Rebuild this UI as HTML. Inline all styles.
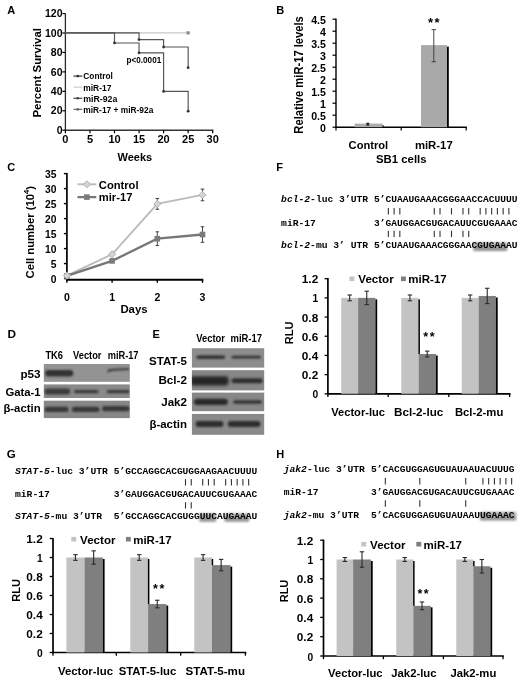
<!DOCTYPE html>
<html><head><meta charset="utf-8"><title>Figure</title>
<style>
html,body{margin:0;padding:0;background:#fff;width:520px;height:681px;overflow:hidden;}
svg{display:block;filter:grayscale(1);}
text{font-family:"Liberation Sans",sans-serif;font-weight:bold;}
.m{font-family:"Liberation Mono",monospace;font-weight:bold;}
</style></head><body>
<svg width="520" height="681" viewBox="0 0 520 681">
<defs>
<filter id="b1" x="-20%" y="-100%" width="140%" height="300%"><feGaussianBlur stdDeviation="0.9"/></filter>
<filter id="b2" x="-20%" y="-100%" width="140%" height="300%"><feGaussianBlur stdDeviation="1.4"/></filter>
<filter id="b05"><feGaussianBlur stdDeviation="0.5"/></filter>
<filter id="b08" x="-20%" y="-50%" width="140%" height="200%"><feGaussianBlur stdDeviation="0.8"/></filter>
<linearGradient id="hg" x1="0" y1="0" x2="0" y2="1"><stop offset="0" stop-color="#b4b4b4"/><stop offset="1" stop-color="#8c8c8c"/></linearGradient>
</defs>
<rect width="520" height="681" fill="#fff"/>

<text x="7.3" y="13.9" font-size="11">A</text>
<line x1="65.4" y1="13.5" x2="65.4" y2="130.8" stroke="#2a2a2a" stroke-width="1.3"/>
<line x1="64.8" y1="130.2" x2="213.3" y2="130.2" stroke="#333" stroke-width="1.5"/>
<line x1="62.4" y1="130.2" x2="65.4" y2="130.2" stroke="#000" stroke-width="1.2"/>
<text x="62.5" y="133.9" font-size="10.5" text-anchor="end">0</text>
<line x1="62.4" y1="110.76" x2="65.4" y2="110.76" stroke="#000" stroke-width="1.2"/>
<text x="62.5" y="114.46" font-size="10.5" text-anchor="end">20</text>
<line x1="62.4" y1="91.32" x2="65.4" y2="91.32" stroke="#000" stroke-width="1.2"/>
<text x="62.5" y="95.02" font-size="10.5" text-anchor="end">40</text>
<line x1="62.4" y1="71.88" x2="65.4" y2="71.88" stroke="#000" stroke-width="1.2"/>
<text x="62.5" y="75.58" font-size="10.5" text-anchor="end">60</text>
<line x1="62.4" y1="52.44" x2="65.4" y2="52.44" stroke="#000" stroke-width="1.2"/>
<text x="62.5" y="56.14" font-size="10.5" text-anchor="end">80</text>
<line x1="62.4" y1="33" x2="65.4" y2="33" stroke="#000" stroke-width="1.2"/>
<text x="62.5" y="36.7" font-size="10.5" text-anchor="end">100</text>
<line x1="62.4" y1="13.56" x2="65.4" y2="13.56" stroke="#000" stroke-width="1.2"/>
<text x="62.5" y="17.26" font-size="10.5" text-anchor="end">120</text>
<line x1="65.4" y1="130.2" x2="65.4" y2="133.2" stroke="#000" stroke-width="1.2"/>
<text x="65.4" y="142.9" font-size="11" text-anchor="middle">0</text>
<line x1="89.95" y1="130.2" x2="89.95" y2="133.2" stroke="#000" stroke-width="1.2"/>
<text x="89.95" y="142.9" font-size="11" text-anchor="middle">5</text>
<line x1="114.5" y1="130.2" x2="114.5" y2="133.2" stroke="#000" stroke-width="1.2"/>
<text x="114.5" y="142.9" font-size="11" text-anchor="middle">10</text>
<line x1="139.05" y1="130.2" x2="139.05" y2="133.2" stroke="#000" stroke-width="1.2"/>
<text x="139.05" y="142.9" font-size="11" text-anchor="middle">15</text>
<line x1="163.6" y1="130.2" x2="163.6" y2="133.2" stroke="#000" stroke-width="1.2"/>
<text x="163.6" y="142.9" font-size="11" text-anchor="middle">20</text>
<line x1="188.15" y1="130.2" x2="188.15" y2="133.2" stroke="#000" stroke-width="1.2"/>
<text x="188.15" y="142.9" font-size="11" text-anchor="middle">25</text>
<line x1="212.7" y1="130.2" x2="212.7" y2="133.2" stroke="#000" stroke-width="1.2"/>
<text x="212.7" y="142.9" font-size="11" text-anchor="middle">30</text>
<text x="134.8" y="160.8" font-size="11" text-anchor="middle">Weeks</text>
<text x="0" y="0" font-size="11.8" text-anchor="middle" transform="translate(41.3 72.8) rotate(-90)" textLength="89.5" lengthAdjust="spacingAndGlyphs">Percent Survival</text>
<line x1="65.4" y1="32.9" x2="188.15" y2="32.9" stroke="#c8c8c8" stroke-width="1.2"/>
<rect x="186.55" y="31.3" width="3.2" height="3.2" fill="#8a8a8a"/>
<path d="M65.4 32.9 L139.05 32.9 L139.05 39.6 L163.6 39.6 L163.6 47 L188.15 47 L188.15 67.7" fill="none" stroke="#555" stroke-width="1.15"/>
<path d="M65.4 32.9 L114.5 32.9 L114.5 42.95 L139.05 42.95 L139.05 52.8 L163.6 52.8 L163.6 91.4 L188.15 91.4 L188.15 111.2" fill="none" stroke="#555" stroke-width="1.15"/>
<circle cx="139.05" cy="39.6" r="1.4" fill="#333"/>
<circle cx="163.6" cy="47" r="1.4" fill="#333"/>
<circle cx="188.15" cy="67.7" r="1.4" fill="#333"/>
<circle cx="114.5" cy="42.95" r="1.4" fill="#333"/>
<circle cx="139.05" cy="52.8" r="1.4" fill="#333"/>
<circle cx="163.6" cy="91.4" r="1.4" fill="#333"/>
<circle cx="188.15" cy="111.2" r="1.4" fill="#333"/>
<text x="126.6" y="63" font-size="8.6" textLength="34.6" lengthAdjust="spacingAndGlyphs">p&lt;0.0001</text>
<line x1="73.5" y1="76.1" x2="82.3" y2="76.1" stroke="#333" stroke-width="1.2"/>
<circle cx="77.8" cy="76.1" r="1.3" fill="#333"/>
<text x="83.3" y="79.45" font-size="8.9" textLength="29.6" lengthAdjust="spacingAndGlyphs">Control</text>
<line x1="73.5" y1="87.2" x2="82.3" y2="87.2" stroke="#ccc" stroke-width="1.2"/>
<text x="83.3" y="90.55" font-size="8.9" textLength="28" lengthAdjust="spacingAndGlyphs">miR-17</text>
<line x1="73.5" y1="98.3" x2="82.3" y2="98.3" stroke="#444" stroke-width="1.2"/>
<circle cx="77.8" cy="98.3" r="1.3" fill="#444"/>
<text x="83.3" y="101.65" font-size="8.9" textLength="34" lengthAdjust="spacingAndGlyphs">miR-92a</text>
<line x1="73.5" y1="109.4" x2="82.3" y2="109.4" stroke="#666" stroke-width="1.2"/>
<circle cx="77.8" cy="109.4" r="1.3" fill="#666"/>
<text x="83.3" y="112.75" font-size="8.9" textLength="70" lengthAdjust="spacingAndGlyphs">miR-17 + miR-92a</text>
<text x="276.2" y="13.9" font-size="11">B</text>
<line x1="336" y1="18.5" x2="336" y2="127.8" stroke="#000" stroke-width="1.4"/>
<line x1="335.4" y1="127.2" x2="466.8" y2="127.2" stroke="#000" stroke-width="1.4"/>
<line x1="332.5" y1="127.2" x2="336" y2="127.2" stroke="#000" stroke-width="1.2"/>
<text x="325.9" y="131.5" font-size="10.6" text-anchor="end">0</text>
<line x1="332.5" y1="115.2" x2="336" y2="115.2" stroke="#000" stroke-width="1.2"/>
<text x="325.9" y="119.5" font-size="10.6" text-anchor="end">0.5</text>
<line x1="332.5" y1="103.2" x2="336" y2="103.2" stroke="#000" stroke-width="1.2"/>
<text x="325.9" y="107.5" font-size="10.6" text-anchor="end">1</text>
<line x1="332.5" y1="91.2" x2="336" y2="91.2" stroke="#000" stroke-width="1.2"/>
<text x="325.9" y="95.5" font-size="10.6" text-anchor="end">1.5</text>
<line x1="332.5" y1="79.2" x2="336" y2="79.2" stroke="#000" stroke-width="1.2"/>
<text x="325.9" y="83.5" font-size="10.6" text-anchor="end">2</text>
<line x1="332.5" y1="67.2" x2="336" y2="67.2" stroke="#000" stroke-width="1.2"/>
<text x="325.9" y="71.5" font-size="10.6" text-anchor="end">2.5</text>
<line x1="332.5" y1="55.2" x2="336" y2="55.2" stroke="#000" stroke-width="1.2"/>
<text x="325.9" y="59.5" font-size="10.6" text-anchor="end">3</text>
<line x1="332.5" y1="43.2" x2="336" y2="43.2" stroke="#000" stroke-width="1.2"/>
<text x="325.9" y="47.5" font-size="10.6" text-anchor="end">3.5</text>
<line x1="332.5" y1="31.2" x2="336" y2="31.2" stroke="#000" stroke-width="1.2"/>
<text x="325.9" y="35.5" font-size="10.6" text-anchor="end">4</text>
<line x1="332.5" y1="19.2" x2="336" y2="19.2" stroke="#000" stroke-width="1.2"/>
<text x="325.9" y="23.5" font-size="10.6" text-anchor="end">4.5</text>
<line x1="336" y1="127.2" x2="336" y2="130.4" stroke="#000" stroke-width="1.2"/>
<line x1="401.2" y1="127.2" x2="401.2" y2="130.4" stroke="#000" stroke-width="1.2"/>
<line x1="466.2" y1="127.2" x2="466.2" y2="130.4" stroke="#000" stroke-width="1.2"/>
<text x="0" y="0" font-size="12.4" text-anchor="middle" transform="translate(302.5 74.9) rotate(-90)" textLength="117.5" lengthAdjust="spacingAndGlyphs">Relative miR-17 levels</text>
<rect x="354.6" y="123.6" width="27.9" height="3.6" fill="#adadad"/>
<rect x="382.5" y="125.1" width="1" height="2.1" fill="#000"/>
<rect x="421" y="45.12" width="26" height="82.08" fill="#a9a9a9"/>
<rect x="447" y="46.62" width="1.8" height="80.58" fill="#000"/>
<line x1="433.8" y1="29.6" x2="433.8" y2="61.8" stroke="#333" stroke-width="0.9"/>
<line x1="431.6" y1="29.6" x2="436" y2="29.6" stroke="#333" stroke-width="0.9"/>
<line x1="431.6" y1="61.8" x2="436" y2="61.8" stroke="#333" stroke-width="0.9"/>
<line x1="367.8" y1="123.36" x2="367.8" y2="125.04" stroke="#222" stroke-width="1.3"/>
<line x1="366.3" y1="123.36" x2="369.3" y2="123.36" stroke="#222" stroke-width="1.3"/>
<line x1="366.3" y1="125.04" x2="369.3" y2="125.04" stroke="#222" stroke-width="1.3"/>
<text x="433.7" y="26.8" font-size="13" font-weight="normal" text-anchor="middle" textLength="11.6" lengthAdjust="spacing">**</text>
<text x="368.4" y="148.8" font-size="10.6" text-anchor="middle" textLength="39.6" lengthAdjust="spacingAndGlyphs">Control</text>
<text x="433.8" y="148.8" font-size="10.6" text-anchor="middle" textLength="37.8" lengthAdjust="spacingAndGlyphs">miR-17</text>
<text x="401.3" y="163.1" font-size="10.8" text-anchor="middle" textLength="50.5" lengthAdjust="spacingAndGlyphs">SB1 cells</text>
<text x="7.3" y="170.6" font-size="11">C</text>
<line x1="66.9" y1="173" x2="66.9" y2="280.6" stroke="#000" stroke-width="1.7"/>
<line x1="66.1" y1="279.8" x2="203.3" y2="279.8" stroke="#000" stroke-width="1.9"/>
<line x1="63.9" y1="278.6" x2="66.9" y2="278.6" stroke="#000" stroke-width="1.4"/>
<text x="56.4" y="283" font-size="10.3" text-anchor="end">0</text>
<line x1="63.9" y1="263.6" x2="66.9" y2="263.6" stroke="#000" stroke-width="1.4"/>
<text x="56.4" y="268" font-size="10.3" text-anchor="end">5</text>
<line x1="63.9" y1="248.6" x2="66.9" y2="248.6" stroke="#000" stroke-width="1.4"/>
<text x="56.4" y="253" font-size="10.3" text-anchor="end">10</text>
<line x1="63.9" y1="233.6" x2="66.9" y2="233.6" stroke="#000" stroke-width="1.4"/>
<text x="56.4" y="238" font-size="10.3" text-anchor="end">15</text>
<line x1="63.9" y1="218.6" x2="66.9" y2="218.6" stroke="#000" stroke-width="1.4"/>
<text x="56.4" y="223" font-size="10.3" text-anchor="end">20</text>
<line x1="63.9" y1="203.6" x2="66.9" y2="203.6" stroke="#000" stroke-width="1.4"/>
<text x="56.4" y="208" font-size="10.3" text-anchor="end">25</text>
<line x1="63.9" y1="188.6" x2="66.9" y2="188.6" stroke="#000" stroke-width="1.4"/>
<text x="56.4" y="193" font-size="10.3" text-anchor="end">30</text>
<line x1="63.9" y1="173.6" x2="66.9" y2="173.6" stroke="#000" stroke-width="1.4"/>
<text x="56.4" y="178" font-size="10.3" text-anchor="end">35</text>
<line x1="66.9" y1="279.8" x2="66.9" y2="282.8" stroke="#000" stroke-width="1.4"/>
<text x="66.9" y="301.3" font-size="10.5" text-anchor="middle">0</text>
<line x1="112.1" y1="279.8" x2="112.1" y2="282.8" stroke="#000" stroke-width="1.4"/>
<text x="112.1" y="301.3" font-size="10.5" text-anchor="middle">1</text>
<line x1="157.3" y1="279.8" x2="157.3" y2="282.8" stroke="#000" stroke-width="1.4"/>
<text x="157.3" y="301.3" font-size="10.5" text-anchor="middle">2</text>
<line x1="202.5" y1="279.8" x2="202.5" y2="282.8" stroke="#000" stroke-width="1.4"/>
<text x="202.5" y="301.3" font-size="10.5" text-anchor="middle">3</text>
<text x="134" y="313.1" font-size="11.8" text-anchor="middle" textLength="27.2" lengthAdjust="spacingAndGlyphs">Days</text>
<text x="0" y="0" font-size="11.8" text-anchor="middle" textLength="92.5" lengthAdjust="spacingAndGlyphs" transform="translate(34.3 232.2) rotate(-90)">Cell number (10<tspan font-size="8" dy="-5.2">4</tspan><tspan dy="5.2">)</tspan></text>
<path d="M66.9 275.6 L112.1 254.3 L157.3 203.9 L202.5 194.9" fill="none" stroke="#bbbbbb" stroke-width="1.9"/>
<path d="M66.9 275.9 L112.1 260.9 L157.3 238.7 L202.5 234.5" fill="none" stroke="#777777" stroke-width="2.3"/>
<line x1="112.1" y1="252.8" x2="112.1" y2="255.8" stroke="#333" stroke-width="0.9"/>
<line x1="110.3" y1="252.8" x2="113.9" y2="252.8" stroke="#333" stroke-width="0.9"/>
<line x1="110.3" y1="255.8" x2="113.9" y2="255.8" stroke="#333" stroke-width="0.9"/>
<line x1="157.3" y1="198.5" x2="157.3" y2="209.3" stroke="#333" stroke-width="0.9"/>
<line x1="155.5" y1="198.5" x2="159.1" y2="198.5" stroke="#333" stroke-width="0.9"/>
<line x1="155.5" y1="209.3" x2="159.1" y2="209.3" stroke="#333" stroke-width="0.9"/>
<line x1="202.5" y1="189.05" x2="202.5" y2="200.75" stroke="#333" stroke-width="0.9"/>
<line x1="200.7" y1="189.05" x2="204.3" y2="189.05" stroke="#333" stroke-width="0.9"/>
<line x1="200.7" y1="200.75" x2="204.3" y2="200.75" stroke="#333" stroke-width="0.9"/>
<line x1="112.1" y1="259.4" x2="112.1" y2="262.4" stroke="#333" stroke-width="0.9"/>
<line x1="110.3" y1="259.4" x2="113.9" y2="259.4" stroke="#333" stroke-width="0.9"/>
<line x1="110.3" y1="262.4" x2="113.9" y2="262.4" stroke="#333" stroke-width="0.9"/>
<line x1="157.3" y1="231.8" x2="157.3" y2="245.6" stroke="#333" stroke-width="0.9"/>
<line x1="155.5" y1="231.8" x2="159.1" y2="231.8" stroke="#333" stroke-width="0.9"/>
<line x1="155.5" y1="245.6" x2="159.1" y2="245.6" stroke="#333" stroke-width="0.9"/>
<line x1="202.5" y1="226.7" x2="202.5" y2="242.3" stroke="#333" stroke-width="0.9"/>
<line x1="200.7" y1="226.7" x2="204.3" y2="226.7" stroke="#333" stroke-width="0.9"/>
<line x1="200.7" y1="242.3" x2="204.3" y2="242.3" stroke="#333" stroke-width="0.9"/>
<rect x="64.1" y="273.1" width="5.6" height="5.6" fill="#7a7a7a"/>
<rect x="109.3" y="258.1" width="5.6" height="5.6" fill="#7a7a7a"/>
<rect x="154.5" y="235.9" width="5.6" height="5.6" fill="#7a7a7a"/>
<rect x="199.7" y="231.7" width="5.6" height="5.6" fill="#7a7a7a"/>
<path d="M66.9 272 L70.5 275.6 L66.9 279.2 L63.3 275.6 Z" fill="#d4d4d4" stroke="#a8a8a8" stroke-width="0.8"/>
<path d="M112.1 250.7 L115.7 254.3 L112.1 257.9 L108.5 254.3 Z" fill="#d4d4d4" stroke="#a8a8a8" stroke-width="0.8"/>
<path d="M157.3 200.3 L160.9 203.9 L157.3 207.5 L153.7 203.9 Z" fill="#d4d4d4" stroke="#a8a8a8" stroke-width="0.8"/>
<path d="M202.5 191.3 L206.1 194.9 L202.5 198.5 L198.9 194.9 Z" fill="#d4d4d4" stroke="#a8a8a8" stroke-width="0.8"/>
<line x1="77.5" y1="184.3" x2="96.3" y2="184.3" stroke="#bbbbbb" stroke-width="1.9"/>
<path d="M86.9 180.7 L90.5 184.3 L86.9 187.9 L83.3 184.3 Z" fill="#d4d4d4" stroke="#a8a8a8" stroke-width="0.8"/>
<text x="98.8" y="188.5" font-size="11.2">Control</text>
<line x1="77.5" y1="197.1" x2="96.3" y2="197.1" stroke="#777777" stroke-width="2.3"/>
<rect x="84.1" y="194.3" width="5.6" height="5.6" fill="#7a7a7a"/>
<text x="98.8" y="201.3" font-size="11.2">mir-17</text>
<text x="7.4" y="337.7" font-size="11.8">D</text>
<text x="45.4" y="358.9" font-size="10" textLength="17.6" lengthAdjust="spacingAndGlyphs">TK6</text>
<text x="73" y="358.9" font-size="10" textLength="28.5" lengthAdjust="spacingAndGlyphs">Vector</text>
<text x="107.7" y="358.9" font-size="10" textLength="30.8" lengthAdjust="spacingAndGlyphs">miR-17</text>
<text x="40.6" y="378.4" font-size="10.6" text-anchor="end" textLength="20.2" lengthAdjust="spacingAndGlyphs">p53</text>
<text x="40.6" y="395.5" font-size="10.6" text-anchor="end" textLength="35.2" lengthAdjust="spacingAndGlyphs">Gata-1</text>
<text x="40.6" y="412.4" font-size="10.6" text-anchor="end" textLength="37.2" lengthAdjust="spacingAndGlyphs">&#946;-actin</text>
<clipPath id="cp1"><rect x="43.8" y="364" width="86" height="17.8"/></clipPath>
<rect x="43.8" y="364" width="86" height="17.8" fill="#939393"/>
<g clip-path="url(#cp1)">
<rect x="45.2" y="370" width="28" height="6.6" rx="3" fill="#333" filter="url(#b1)"/>
<path d="M107.6 369.6 Q110 368.9 118 368.6 L129 367.9 L129 369.9 L118 370.5 Q110 371.0 107.6 372.2 Z" fill="#383838" filter="url(#b08)"/>
</g>
<clipPath id="cp2"><rect x="43.8" y="384.4" width="86" height="13.6"/></clipPath>
<rect x="43.8" y="384.4" width="86" height="13.6" fill="#8a8a8a"/>
<g clip-path="url(#cp2)">
<rect x="44.6" y="388.4" width="25.6" height="6.2" rx="3" fill="#3a3a3a" filter="url(#b1)"/>
<rect x="74" y="389.9" width="24.5" height="3.4" rx="1.7" fill="#383838" filter="url(#b1)"/>
<rect x="106.7" y="389.9" width="22.9" height="3.4" rx="1.7" fill="#383838" filter="url(#b1)"/>
</g>
<clipPath id="cp3"><rect x="43.8" y="400.7" width="86" height="17.4"/></clipPath>
<rect x="43.8" y="400.7" width="86" height="17.4" fill="#878787"/>
<g clip-path="url(#cp3)">
<rect x="44.6" y="406.8" width="23.9" height="5.2" rx="2.6" fill="#383838" filter="url(#b1)"/>
<rect x="72" y="406.7" width="27.4" height="5.4" rx="2.7" fill="#383838" filter="url(#b1)"/>
<rect x="102" y="405.9" width="27.6" height="5.4" rx="2.7" fill="#383838" filter="url(#b1)"/>
</g>
<text x="152.4" y="338.4" font-size="11">E</text>
<text x="196.3" y="342.4" font-size="10" textLength="28.7" lengthAdjust="spacingAndGlyphs">Vector</text>
<text x="230.5" y="342.4" font-size="10" textLength="31.5" lengthAdjust="spacingAndGlyphs">miR-17</text>
<text x="187" y="365" font-size="10.5" text-anchor="end" textLength="37.9" lengthAdjust="spacingAndGlyphs">STAT-5</text>
<text x="187" y="383.6" font-size="10.5" text-anchor="end" textLength="28.6" lengthAdjust="spacingAndGlyphs">Bcl-2</text>
<text x="187" y="405.9" font-size="10.5" text-anchor="end" textLength="25.8" lengthAdjust="spacingAndGlyphs">Jak2</text>
<text x="187" y="427.6" font-size="10.5" text-anchor="end" textLength="37.6" lengthAdjust="spacingAndGlyphs">&#946;-actin</text>
<clipPath id="cp4"><rect x="191.9" y="348.2" width="72.3" height="19.4"/></clipPath>
<rect x="191.9" y="348.2" width="72.3" height="19.4" fill="#8d8d8d"/>
<g clip-path="url(#cp4)">
<rect x="196.4" y="355.6" width="28.6" height="3.2" rx="1.6" fill="#2a2a2a" filter="url(#b1)"/>
<rect x="231.6" y="355.8" width="29.4" height="2.8" rx="1.4" fill="#333" filter="url(#b1)"/>
</g>
<clipPath id="cp5"><rect x="191.9" y="370.2" width="72.3" height="20.2"/></clipPath>
<rect x="191.9" y="370.2" width="72.3" height="20.2" fill="#878787"/>
<g clip-path="url(#cp5)">
<rect x="190.5" y="376.2" width="38" height="9.2" rx="3" fill="#262626" filter="url(#b2)"/>
<rect x="231.6" y="378.3" width="31" height="5" rx="2.5" fill="#2e2e2e" filter="url(#b1)"/>
</g>
<clipPath id="cp6"><rect x="191.9" y="392.6" width="72.3" height="18.6"/></clipPath>
<rect x="191.9" y="392.6" width="72.3" height="18.6" fill="#878787"/>
<g clip-path="url(#cp6)">
<rect x="194" y="398.7" width="33.8" height="6.2" rx="3" fill="#2a2a2a" filter="url(#b1)"/>
<rect x="233.2" y="400.3" width="28.6" height="3.4" rx="1.7" fill="#333" filter="url(#b1)"/>
</g>
<clipPath id="cp7"><rect x="191.9" y="413.9" width="72.3" height="20.9"/></clipPath>
<rect x="191.9" y="413.9" width="72.3" height="20.9" fill="#8a8a8a"/>
<g clip-path="url(#cp7)">
<rect x="195.6" y="421.1" width="27.8" height="6" rx="3" fill="#2e2e2e" filter="url(#b1)"/>
<rect x="227.8" y="421.1" width="32.7" height="6" rx="3" fill="#2e2e2e" filter="url(#b1)"/>
</g>
<text x="276.2" y="170.6" font-size="11">F</text>
<text class="m" x="281.1" y="202.3" font-size="8.7" textLength="87" lengthAdjust="spacingAndGlyphs"><tspan font-style="italic">bcl-2</tspan>-luc 3&#8217;UTR</text>
<text class="m" x="281.1" y="225.5" font-size="8.7" textLength="34.8" lengthAdjust="spacingAndGlyphs">miR-17</text>
<text class="m" x="281.1" y="248.3" font-size="8.7" textLength="87" lengthAdjust="spacingAndGlyphs"><tspan font-style="italic">bcl-2</tspan>-mu 3&#8217; UTR</text>
<text class="m" x="374" y="202.3" font-size="8.7" textLength="143.5" lengthAdjust="spacingAndGlyphs">5&#8217;CUAAUGAAACGGGAACCACUUUU</text>
<text class="m" x="374" y="225.5" font-size="8.7" textLength="143.5" lengthAdjust="spacingAndGlyphs">3&#8217;GAUGGACGUGACAUUCGUGAAAC</text>
<rect x="473.3" y="242.3" width="33.87" height="8.6" rx="1" fill="url(#hg)" filter="url(#b08)"/>
<text class="m" x="374" y="248.3" font-size="8.7" textLength="143.5" lengthAdjust="spacingAndGlyphs">5&#8217;CUAAUGAAACGGGAACGUGAAAU</text>
<line x1="388.35" y1="208.1" x2="388.35" y2="214.5" stroke="#333" stroke-width="1.1"/>
<line x1="394.09" y1="208.1" x2="394.09" y2="214.5" stroke="#333" stroke-width="1.1"/>
<line x1="399.83" y1="208.1" x2="399.83" y2="214.5" stroke="#333" stroke-width="1.1"/>
<line x1="434.27" y1="208.1" x2="434.27" y2="214.5" stroke="#333" stroke-width="1.1"/>
<line x1="440.01" y1="208.1" x2="440.01" y2="214.5" stroke="#333" stroke-width="1.1"/>
<line x1="451.49" y1="208.1" x2="451.49" y2="214.5" stroke="#333" stroke-width="1.1"/>
<line x1="462.97" y1="208.1" x2="462.97" y2="214.5" stroke="#333" stroke-width="1.1"/>
<line x1="468.71" y1="208.1" x2="468.71" y2="214.5" stroke="#333" stroke-width="1.1"/>
<line x1="480.19" y1="208.1" x2="480.19" y2="214.5" stroke="#333" stroke-width="1.1"/>
<line x1="485.93" y1="208.1" x2="485.93" y2="214.5" stroke="#333" stroke-width="1.1"/>
<line x1="491.67" y1="208.1" x2="491.67" y2="214.5" stroke="#333" stroke-width="1.1"/>
<line x1="497.41" y1="208.1" x2="497.41" y2="214.5" stroke="#333" stroke-width="1.1"/>
<line x1="503.15" y1="208.1" x2="503.15" y2="214.5" stroke="#333" stroke-width="1.1"/>
<line x1="508.89" y1="208.1" x2="508.89" y2="214.5" stroke="#333" stroke-width="1.1"/>
<line x1="388.35" y1="230.7" x2="388.35" y2="237.1" stroke="#333" stroke-width="1.1"/>
<line x1="394.09" y1="230.7" x2="394.09" y2="237.1" stroke="#333" stroke-width="1.1"/>
<line x1="399.83" y1="230.7" x2="399.83" y2="237.1" stroke="#333" stroke-width="1.1"/>
<line x1="434.27" y1="230.7" x2="434.27" y2="237.1" stroke="#333" stroke-width="1.1"/>
<line x1="440.01" y1="230.7" x2="440.01" y2="237.1" stroke="#333" stroke-width="1.1"/>
<line x1="451.49" y1="230.7" x2="451.49" y2="237.1" stroke="#333" stroke-width="1.1"/>
<line x1="462.97" y1="230.7" x2="462.97" y2="237.1" stroke="#333" stroke-width="1.1"/>
<line x1="468.71" y1="230.7" x2="468.71" y2="237.1" stroke="#333" stroke-width="1.1"/>
<text x="6.8" y="458.4" font-size="11.6">G</text>
<text class="m" x="15" y="474.1" font-size="8.7" textLength="92.8" lengthAdjust="spacingAndGlyphs"><tspan font-style="italic">STAT-5</tspan>-luc 3&#8217;UTR</text>
<text class="m" x="15" y="496.7" font-size="8.7" textLength="34.8" lengthAdjust="spacingAndGlyphs">miR-17</text>
<text class="m" x="15" y="519.2" font-size="8.7" textLength="87" lengthAdjust="spacingAndGlyphs"><tspan font-style="italic">STAT-5</tspan>-mu 3&#8217;UTR</text>
<text class="m" x="113.75" y="474.1" font-size="8.7" textLength="143.5" lengthAdjust="spacingAndGlyphs">5&#8217;GCCAGGCACGUGGAAGAACUUUU</text>
<text class="m" x="113.75" y="496.7" font-size="8.7" textLength="143.5" lengthAdjust="spacingAndGlyphs">3&#8217;GAUGGACGUGACAUUCGUGAAAC</text>
<rect x="199.28" y="513.2" width="16.93" height="8.6" rx="1" fill="url(#hg)" filter="url(#b08)"/>
<rect x="224.53" y="513.2" width="24.68" height="8.6" rx="1" fill="url(#hg)" filter="url(#b08)"/>
<text class="m" x="113.75" y="519.2" font-size="8.7" textLength="143.5" lengthAdjust="spacingAndGlyphs">5&#8217;GCCAGGCACGUGGUUCAUGAAAU</text>
<line x1="185.5" y1="479.1" x2="185.5" y2="485.5" stroke="#333" stroke-width="1.1"/>
<line x1="191.24" y1="479.1" x2="191.24" y2="485.5" stroke="#333" stroke-width="1.1"/>
<line x1="202.72" y1="479.1" x2="202.72" y2="485.5" stroke="#333" stroke-width="1.1"/>
<line x1="208.46" y1="479.1" x2="208.46" y2="485.5" stroke="#333" stroke-width="1.1"/>
<line x1="214.2" y1="479.1" x2="214.2" y2="485.5" stroke="#333" stroke-width="1.1"/>
<line x1="225.68" y1="479.1" x2="225.68" y2="485.5" stroke="#333" stroke-width="1.1"/>
<line x1="231.42" y1="479.1" x2="231.42" y2="485.5" stroke="#333" stroke-width="1.1"/>
<line x1="237.16" y1="479.1" x2="237.16" y2="485.5" stroke="#333" stroke-width="1.1"/>
<line x1="242.9" y1="479.1" x2="242.9" y2="485.5" stroke="#333" stroke-width="1.1"/>
<line x1="248.64" y1="479.1" x2="248.64" y2="485.5" stroke="#333" stroke-width="1.1"/>
<line x1="185.5" y1="502.2" x2="185.5" y2="508.6" stroke="#333" stroke-width="1.1"/>
<line x1="191.24" y1="502.2" x2="191.24" y2="508.6" stroke="#333" stroke-width="1.1"/>
<text x="276.2" y="458.2" font-size="11">H</text>
<text class="m" x="283.7" y="472.3" font-size="8.7" textLength="81.2" lengthAdjust="spacingAndGlyphs"><tspan font-style="italic">jak2</tspan>-luc 3&#8217;UTR</text>
<text class="m" x="283.7" y="495.3" font-size="8.7" textLength="34.8" lengthAdjust="spacingAndGlyphs">miR-17</text>
<text class="m" x="283.7" y="517.8" font-size="8.7" textLength="75.4" lengthAdjust="spacingAndGlyphs"><tspan font-style="italic">jak2</tspan>-mu 3&#8217;UTR</text>
<text class="m" x="371" y="472.3" font-size="8.7" textLength="143.5" lengthAdjust="spacingAndGlyphs">5&#8217;CACGUGGAGUGUAUAAUACUUUG</text>
<text class="m" x="371" y="495.3" font-size="8.7" textLength="143.5" lengthAdjust="spacingAndGlyphs">3&#8217;GAUGGACGUGACAUUCGUGAAAC</text>
<rect x="480.06" y="511.8" width="36.16" height="8.6" rx="1" fill="url(#hg)" filter="url(#b08)"/>
<text class="m" x="371" y="517.8" font-size="8.7" textLength="143.5" lengthAdjust="spacingAndGlyphs">5&#8217;CACGUGGAGUGUAUAAUUGAAAC</text>
<line x1="385.35" y1="478" x2="385.35" y2="484.4" stroke="#333" stroke-width="1.1"/>
<line x1="419.79" y1="478" x2="419.79" y2="484.4" stroke="#333" stroke-width="1.1"/>
<line x1="465.71" y1="478" x2="465.71" y2="484.4" stroke="#333" stroke-width="1.1"/>
<line x1="482.93" y1="478" x2="482.93" y2="484.4" stroke="#333" stroke-width="1.1"/>
<line x1="488.67" y1="478" x2="488.67" y2="484.4" stroke="#333" stroke-width="1.1"/>
<line x1="494.41" y1="478" x2="494.41" y2="484.4" stroke="#333" stroke-width="1.1"/>
<line x1="500.15" y1="478" x2="500.15" y2="484.4" stroke="#333" stroke-width="1.1"/>
<line x1="505.89" y1="478" x2="505.89" y2="484.4" stroke="#333" stroke-width="1.1"/>
<line x1="511.63" y1="478" x2="511.63" y2="484.4" stroke="#333" stroke-width="1.1"/>
<line x1="385.35" y1="500.3" x2="385.35" y2="506.7" stroke="#333" stroke-width="1.1"/>
<line x1="419.79" y1="500.3" x2="419.79" y2="506.7" stroke="#333" stroke-width="1.1"/>
<line x1="465.71" y1="500.3" x2="465.71" y2="506.7" stroke="#333" stroke-width="1.1"/>
<line x1="327.9" y1="278.1" x2="327.9" y2="394.6" stroke="#000" stroke-width="1.7"/>
<line x1="327.1" y1="393.8" x2="510.6" y2="393.8" stroke="#000" stroke-width="1.7"/>
<line x1="324.6" y1="393.8" x2="327.9" y2="393.8" stroke="#000" stroke-width="1.3"/>
<text x="318.2" y="398.4" font-size="10.2" text-anchor="end">0</text>
<line x1="324.6" y1="374.62" x2="327.9" y2="374.62" stroke="#000" stroke-width="1.3"/>
<text x="318.2" y="379.22" font-size="10.2" text-anchor="end" textLength="16.4" lengthAdjust="spacingAndGlyphs">0.2</text>
<line x1="324.6" y1="355.43" x2="327.9" y2="355.43" stroke="#000" stroke-width="1.3"/>
<text x="318.2" y="360.03" font-size="10.2" text-anchor="end" textLength="16.4" lengthAdjust="spacingAndGlyphs">0.4</text>
<line x1="324.6" y1="336.25" x2="327.9" y2="336.25" stroke="#000" stroke-width="1.3"/>
<text x="318.2" y="340.85" font-size="10.2" text-anchor="end" textLength="16.4" lengthAdjust="spacingAndGlyphs">0.6</text>
<line x1="324.6" y1="317.07" x2="327.9" y2="317.07" stroke="#000" stroke-width="1.3"/>
<text x="318.2" y="321.67" font-size="10.2" text-anchor="end" textLength="16.4" lengthAdjust="spacingAndGlyphs">0.8</text>
<line x1="324.6" y1="297.88" x2="327.9" y2="297.88" stroke="#000" stroke-width="1.3"/>
<text x="318.2" y="302.48" font-size="10.2" text-anchor="end">1</text>
<line x1="324.6" y1="278.7" x2="327.9" y2="278.7" stroke="#000" stroke-width="1.3"/>
<text x="318.2" y="283.3" font-size="10.2" text-anchor="end" textLength="16.4" lengthAdjust="spacingAndGlyphs">1.2</text>
<line x1="327.9" y1="393.8" x2="327.9" y2="397" stroke="#000" stroke-width="1.3"/>
<line x1="388.2" y1="393.8" x2="388.2" y2="397" stroke="#000" stroke-width="1.3"/>
<line x1="448.8" y1="393.8" x2="448.8" y2="397" stroke="#000" stroke-width="1.3"/>
<line x1="509.6" y1="393.8" x2="509.6" y2="397" stroke="#000" stroke-width="1.3"/>
<text x="0" y="0" font-size="11.8" text-anchor="middle" textLength="22.6" lengthAdjust="spacingAndGlyphs" transform="translate(293.4 332.9) rotate(-90)">RLU</text>
<rect x="341.25" y="297.88" width="16.85" height="95.92" fill="#c3c3c3"/>
<rect x="358.1" y="297.88" width="17.3" height="95.92" fill="#7f7f7f"/>
<rect x="375.4" y="299.38" width="1.8" height="94.42" fill="#000"/>
<line x1="349.68" y1="295.01" x2="349.68" y2="300.76" stroke="#2a2a2a" stroke-width="1.1"/>
<line x1="347.48" y1="295.01" x2="351.88" y2="295.01" stroke="#2a2a2a" stroke-width="1.1"/>
<line x1="347.48" y1="300.76" x2="351.88" y2="300.76" stroke="#2a2a2a" stroke-width="1.1"/>
<line x1="366.75" y1="291.17" x2="366.75" y2="304.6" stroke="#2a2a2a" stroke-width="1.1"/>
<line x1="364.55" y1="291.17" x2="368.95" y2="291.17" stroke="#2a2a2a" stroke-width="1.1"/>
<line x1="364.55" y1="304.6" x2="368.95" y2="304.6" stroke="#2a2a2a" stroke-width="1.1"/>
<rect x="401.25" y="297.88" width="17.35" height="95.92" fill="#c3c3c3"/>
<rect x="418.6" y="353.99" width="17.3" height="39.81" fill="#7f7f7f"/>
<rect x="418.4" y="299.38" width="1.5" height="54.61" fill="#000"/>
<rect x="435.9" y="355.49" width="1.8" height="38.31" fill="#000"/>
<line x1="409.93" y1="295.01" x2="409.93" y2="300.76" stroke="#2a2a2a" stroke-width="1.1"/>
<line x1="407.73" y1="295.01" x2="412.12" y2="295.01" stroke="#2a2a2a" stroke-width="1.1"/>
<line x1="407.73" y1="300.76" x2="412.12" y2="300.76" stroke="#2a2a2a" stroke-width="1.1"/>
<line x1="427.25" y1="351.12" x2="427.25" y2="356.87" stroke="#2a2a2a" stroke-width="1.1"/>
<line x1="425.05" y1="351.12" x2="429.45" y2="351.12" stroke="#2a2a2a" stroke-width="1.1"/>
<line x1="425.05" y1="356.87" x2="429.45" y2="356.87" stroke="#2a2a2a" stroke-width="1.1"/>
<rect x="461.7" y="297.88" width="16.9" height="95.92" fill="#c3c3c3"/>
<rect x="478.6" y="295.96" width="17.3" height="97.84" fill="#7f7f7f"/>
<rect x="495.9" y="297.46" width="1.8" height="96.34" fill="#000"/>
<line x1="470.15" y1="295.01" x2="470.15" y2="300.76" stroke="#2a2a2a" stroke-width="1.1"/>
<line x1="467.95" y1="295.01" x2="472.35" y2="295.01" stroke="#2a2a2a" stroke-width="1.1"/>
<line x1="467.95" y1="300.76" x2="472.35" y2="300.76" stroke="#2a2a2a" stroke-width="1.1"/>
<line x1="487.25" y1="288.29" x2="487.25" y2="303.64" stroke="#2a2a2a" stroke-width="1.1"/>
<line x1="485.05" y1="288.29" x2="489.45" y2="288.29" stroke="#2a2a2a" stroke-width="1.1"/>
<line x1="485.05" y1="303.64" x2="489.45" y2="303.64" stroke="#2a2a2a" stroke-width="1.1"/>
<text x="358.1" y="415.9" font-size="11" text-anchor="middle" textLength="53.7" lengthAdjust="spacingAndGlyphs">Vector-luc</text>
<text x="418.7" y="415.9" font-size="11" text-anchor="middle" textLength="49.3" lengthAdjust="spacingAndGlyphs">Bcl-2-luc</text>
<text x="479.1" y="415.9" font-size="11" text-anchor="middle" textLength="48.4" lengthAdjust="spacingAndGlyphs">Bcl-2-mu</text>
<rect x="349.5" y="276.5" width="4.9" height="4.6" fill="#c3c3c3"/>
<text x="358.3" y="283.1" font-size="10.9" textLength="35.4" lengthAdjust="spacingAndGlyphs">Vector</text>
<rect x="401" y="276.5" width="4.9" height="4.6" fill="#7f7f7f"/>
<text x="408.3" y="283.1" font-size="10.9" textLength="38.4" lengthAdjust="spacingAndGlyphs">miR-17</text>
<text x="428.9" y="340.6" font-size="12.5" font-weight="normal" text-anchor="middle" textLength="11.2" lengthAdjust="spacing">**</text>
<line x1="53" y1="537.9" x2="53" y2="653.3" stroke="#000" stroke-width="1.7"/>
<line x1="52.2" y1="652.5" x2="246.4" y2="652.5" stroke="#000" stroke-width="1.7"/>
<line x1="49.7" y1="652.5" x2="53" y2="652.5" stroke="#000" stroke-width="1.3"/>
<text x="42.7" y="657.1" font-size="10.2" text-anchor="end">0</text>
<line x1="49.7" y1="633.5" x2="53" y2="633.5" stroke="#000" stroke-width="1.3"/>
<text x="42.7" y="638.1" font-size="10.2" text-anchor="end" textLength="16.4" lengthAdjust="spacingAndGlyphs">0.2</text>
<line x1="49.7" y1="614.5" x2="53" y2="614.5" stroke="#000" stroke-width="1.3"/>
<text x="42.7" y="619.1" font-size="10.2" text-anchor="end" textLength="16.4" lengthAdjust="spacingAndGlyphs">0.4</text>
<line x1="49.7" y1="595.5" x2="53" y2="595.5" stroke="#000" stroke-width="1.3"/>
<text x="42.7" y="600.1" font-size="10.2" text-anchor="end" textLength="16.4" lengthAdjust="spacingAndGlyphs">0.6</text>
<line x1="49.7" y1="576.5" x2="53" y2="576.5" stroke="#000" stroke-width="1.3"/>
<text x="42.7" y="581.1" font-size="10.2" text-anchor="end" textLength="16.4" lengthAdjust="spacingAndGlyphs">0.8</text>
<line x1="49.7" y1="557.5" x2="53" y2="557.5" stroke="#000" stroke-width="1.3"/>
<text x="42.7" y="562.1" font-size="10.2" text-anchor="end">1</text>
<line x1="49.7" y1="538.5" x2="53" y2="538.5" stroke="#000" stroke-width="1.3"/>
<text x="42.7" y="543.1" font-size="10.2" text-anchor="end" textLength="16.4" lengthAdjust="spacingAndGlyphs">1.2</text>
<line x1="53" y1="652.5" x2="53" y2="655.7" stroke="#000" stroke-width="1.3"/>
<line x1="116.3" y1="652.5" x2="116.3" y2="655.7" stroke="#000" stroke-width="1.3"/>
<line x1="180.7" y1="652.5" x2="180.7" y2="655.7" stroke="#000" stroke-width="1.3"/>
<line x1="245.4" y1="652.5" x2="245.4" y2="655.7" stroke="#000" stroke-width="1.3"/>
<text x="0" y="0" font-size="11.8" text-anchor="middle" textLength="22.6" lengthAdjust="spacingAndGlyphs" transform="translate(20.4 590.4) rotate(-90)">RLU</text>
<rect x="66.4" y="557.5" width="18.1" height="95" fill="#c3c3c3"/>
<rect x="84.5" y="557.5" width="18.3" height="95" fill="#7f7f7f"/>
<rect x="102.8" y="559" width="1.8" height="93.5" fill="#000"/>
<line x1="75.45" y1="554.65" x2="75.45" y2="560.35" stroke="#2a2a2a" stroke-width="1.1"/>
<line x1="73.25" y1="554.65" x2="77.65" y2="554.65" stroke="#2a2a2a" stroke-width="1.1"/>
<line x1="73.25" y1="560.35" x2="77.65" y2="560.35" stroke="#2a2a2a" stroke-width="1.1"/>
<line x1="93.65" y1="550.85" x2="93.65" y2="564.15" stroke="#2a2a2a" stroke-width="1.1"/>
<line x1="91.45" y1="550.85" x2="95.85" y2="550.85" stroke="#2a2a2a" stroke-width="1.1"/>
<line x1="91.45" y1="564.15" x2="95.85" y2="564.15" stroke="#2a2a2a" stroke-width="1.1"/>
<rect x="130.3" y="557.5" width="17.8" height="95" fill="#c3c3c3"/>
<rect x="148.1" y="604.05" width="18.3" height="48.45" fill="#7f7f7f"/>
<rect x="147.9" y="559" width="1.5" height="45.05" fill="#000"/>
<rect x="166.4" y="605.55" width="1.8" height="46.95" fill="#000"/>
<line x1="139.2" y1="554.65" x2="139.2" y2="560.35" stroke="#2a2a2a" stroke-width="1.1"/>
<line x1="137" y1="554.65" x2="141.4" y2="554.65" stroke="#2a2a2a" stroke-width="1.1"/>
<line x1="137" y1="560.35" x2="141.4" y2="560.35" stroke="#2a2a2a" stroke-width="1.1"/>
<line x1="157.25" y1="600.25" x2="157.25" y2="607.85" stroke="#2a2a2a" stroke-width="1.1"/>
<line x1="155.05" y1="600.25" x2="159.45" y2="600.25" stroke="#2a2a2a" stroke-width="1.1"/>
<line x1="155.05" y1="607.85" x2="159.45" y2="607.85" stroke="#2a2a2a" stroke-width="1.1"/>
<rect x="194.3" y="557.5" width="17.6" height="95" fill="#c3c3c3"/>
<rect x="211.9" y="565.1" width="18.5" height="87.4" fill="#7f7f7f"/>
<rect x="211.7" y="559" width="1.5" height="6.1" fill="#000"/>
<rect x="230.4" y="566.6" width="1.8" height="85.9" fill="#000"/>
<line x1="203.1" y1="554.65" x2="203.1" y2="560.35" stroke="#2a2a2a" stroke-width="1.1"/>
<line x1="200.9" y1="554.65" x2="205.3" y2="554.65" stroke="#2a2a2a" stroke-width="1.1"/>
<line x1="200.9" y1="560.35" x2="205.3" y2="560.35" stroke="#2a2a2a" stroke-width="1.1"/>
<line x1="221.15" y1="559.4" x2="221.15" y2="570.8" stroke="#2a2a2a" stroke-width="1.1"/>
<line x1="218.95" y1="559.4" x2="223.35" y2="559.4" stroke="#2a2a2a" stroke-width="1.1"/>
<line x1="218.95" y1="570.8" x2="223.35" y2="570.8" stroke="#2a2a2a" stroke-width="1.1"/>
<text x="85.5" y="674.5" font-size="11" text-anchor="middle" textLength="55" lengthAdjust="spacingAndGlyphs">Vector-luc</text>
<text x="147.5" y="674.5" font-size="11" text-anchor="middle" textLength="57.6" lengthAdjust="spacingAndGlyphs">STAT-5-luc</text>
<text x="215.3" y="674.5" font-size="11" text-anchor="middle" textLength="59.4" lengthAdjust="spacingAndGlyphs">STAT-5-mu</text>
<rect x="71.3" y="536.9" width="4.9" height="4.6" fill="#c3c3c3"/>
<text x="80.1" y="543.5" font-size="10.9" textLength="35.4" lengthAdjust="spacingAndGlyphs">Vector</text>
<rect x="125.9" y="536.9" width="4.9" height="4.6" fill="#7f7f7f"/>
<text x="133.2" y="543.5" font-size="10.9" textLength="38.4" lengthAdjust="spacingAndGlyphs">miR-17</text>
<text x="158.7" y="593.2" font-size="12.5" font-weight="normal" text-anchor="middle" textLength="11.2" lengthAdjust="spacing">**</text>
<line x1="323.5" y1="539.6" x2="323.5" y2="656.8" stroke="#000" stroke-width="1.7"/>
<line x1="322.7" y1="656" x2="503.8" y2="656" stroke="#000" stroke-width="1.7"/>
<line x1="320.2" y1="656" x2="323.5" y2="656" stroke="#000" stroke-width="1.3"/>
<text x="313.2" y="660.6" font-size="10.2" text-anchor="end">0</text>
<line x1="320.2" y1="636.7" x2="323.5" y2="636.7" stroke="#000" stroke-width="1.3"/>
<text x="313.2" y="641.3" font-size="10.2" text-anchor="end" textLength="16.4" lengthAdjust="spacingAndGlyphs">0.2</text>
<line x1="320.2" y1="617.4" x2="323.5" y2="617.4" stroke="#000" stroke-width="1.3"/>
<text x="313.2" y="622" font-size="10.2" text-anchor="end" textLength="16.4" lengthAdjust="spacingAndGlyphs">0.4</text>
<line x1="320.2" y1="598.1" x2="323.5" y2="598.1" stroke="#000" stroke-width="1.3"/>
<text x="313.2" y="602.7" font-size="10.2" text-anchor="end" textLength="16.4" lengthAdjust="spacingAndGlyphs">0.6</text>
<line x1="320.2" y1="578.8" x2="323.5" y2="578.8" stroke="#000" stroke-width="1.3"/>
<text x="313.2" y="583.4" font-size="10.2" text-anchor="end" textLength="16.4" lengthAdjust="spacingAndGlyphs">0.8</text>
<line x1="320.2" y1="559.5" x2="323.5" y2="559.5" stroke="#000" stroke-width="1.3"/>
<text x="313.2" y="564.1" font-size="10.2" text-anchor="end">1</text>
<line x1="320.2" y1="540.2" x2="323.5" y2="540.2" stroke="#000" stroke-width="1.3"/>
<text x="313.2" y="544.8" font-size="10.2" text-anchor="end" textLength="16.4" lengthAdjust="spacingAndGlyphs">1.2</text>
<line x1="323.5" y1="656" x2="323.5" y2="659.2" stroke="#000" stroke-width="1.3"/>
<line x1="383.4" y1="656" x2="383.4" y2="659.2" stroke="#000" stroke-width="1.3"/>
<line x1="443.4" y1="656" x2="443.4" y2="659.2" stroke="#000" stroke-width="1.3"/>
<line x1="503" y1="656" x2="503" y2="659.2" stroke="#000" stroke-width="1.3"/>
<text x="0" y="0" font-size="11.8" text-anchor="middle" textLength="22.6" lengthAdjust="spacingAndGlyphs" transform="translate(288.3 591) rotate(-90)">RLU</text>
<rect x="336.6" y="559.5" width="16.5" height="96.5" fill="#c3c3c3"/>
<rect x="353.1" y="559.5" width="17.8" height="96.5" fill="#7f7f7f"/>
<rect x="370.9" y="561" width="1.8" height="95" fill="#000"/>
<line x1="344.85" y1="557.57" x2="344.85" y2="561.43" stroke="#2a2a2a" stroke-width="1.1"/>
<line x1="342.65" y1="557.57" x2="347.05" y2="557.57" stroke="#2a2a2a" stroke-width="1.1"/>
<line x1="342.65" y1="561.43" x2="347.05" y2="561.43" stroke="#2a2a2a" stroke-width="1.1"/>
<line x1="362" y1="551.78" x2="362" y2="567.22" stroke="#2a2a2a" stroke-width="1.1"/>
<line x1="359.8" y1="551.78" x2="364.2" y2="551.78" stroke="#2a2a2a" stroke-width="1.1"/>
<line x1="359.8" y1="567.22" x2="364.2" y2="567.22" stroke="#2a2a2a" stroke-width="1.1"/>
<rect x="396.25" y="559.5" width="17.05" height="96.5" fill="#c3c3c3"/>
<rect x="413.3" y="605.82" width="17.4" height="50.18" fill="#7f7f7f"/>
<rect x="413.1" y="561" width="1.5" height="44.82" fill="#000"/>
<rect x="430.7" y="607.32" width="1.8" height="48.68" fill="#000"/>
<line x1="404.77" y1="557.57" x2="404.77" y2="561.43" stroke="#2a2a2a" stroke-width="1.1"/>
<line x1="402.57" y1="557.57" x2="406.97" y2="557.57" stroke="#2a2a2a" stroke-width="1.1"/>
<line x1="402.57" y1="561.43" x2="406.97" y2="561.43" stroke="#2a2a2a" stroke-width="1.1"/>
<line x1="422" y1="601.96" x2="422" y2="609.68" stroke="#2a2a2a" stroke-width="1.1"/>
<line x1="419.8" y1="601.96" x2="424.2" y2="601.96" stroke="#2a2a2a" stroke-width="1.1"/>
<line x1="419.8" y1="609.68" x2="424.2" y2="609.68" stroke="#2a2a2a" stroke-width="1.1"/>
<rect x="456.25" y="559.5" width="17.05" height="96.5" fill="#c3c3c3"/>
<rect x="473.3" y="566.25" width="17.1" height="89.75" fill="#7f7f7f"/>
<rect x="473.1" y="561" width="1.5" height="5.25" fill="#000"/>
<rect x="490.4" y="567.75" width="1.8" height="88.25" fill="#000"/>
<line x1="464.77" y1="557.57" x2="464.77" y2="561.43" stroke="#2a2a2a" stroke-width="1.1"/>
<line x1="462.57" y1="557.57" x2="466.97" y2="557.57" stroke="#2a2a2a" stroke-width="1.1"/>
<line x1="462.57" y1="561.43" x2="466.97" y2="561.43" stroke="#2a2a2a" stroke-width="1.1"/>
<line x1="481.85" y1="559.5" x2="481.85" y2="573.01" stroke="#2a2a2a" stroke-width="1.1"/>
<line x1="479.65" y1="559.5" x2="484.05" y2="559.5" stroke="#2a2a2a" stroke-width="1.1"/>
<line x1="479.65" y1="573.01" x2="484.05" y2="573.01" stroke="#2a2a2a" stroke-width="1.1"/>
<text x="355.3" y="677.3" font-size="11" text-anchor="middle" textLength="54.5" lengthAdjust="spacingAndGlyphs">Vector-luc</text>
<text x="413.9" y="677.3" font-size="11" text-anchor="middle" textLength="45.2" lengthAdjust="spacingAndGlyphs">Jak2-luc</text>
<text x="473.4" y="677.3" font-size="11" text-anchor="middle" textLength="45.8" lengthAdjust="spacingAndGlyphs">Jak2-mu</text>
<rect x="361.3" y="541.9" width="4.9" height="4.6" fill="#c3c3c3"/>
<text x="370.1" y="548.5" font-size="10.9" textLength="35.4" lengthAdjust="spacingAndGlyphs">Vector</text>
<rect x="416.3" y="541.9" width="4.9" height="4.6" fill="#7f7f7f"/>
<text x="423.6" y="548.5" font-size="10.9" textLength="38.4" lengthAdjust="spacingAndGlyphs">miR-17</text>
<text x="423.1" y="597.6" font-size="12.5" font-weight="normal" text-anchor="middle" textLength="11.2" lengthAdjust="spacing">**</text>
</svg>
</body></html>
